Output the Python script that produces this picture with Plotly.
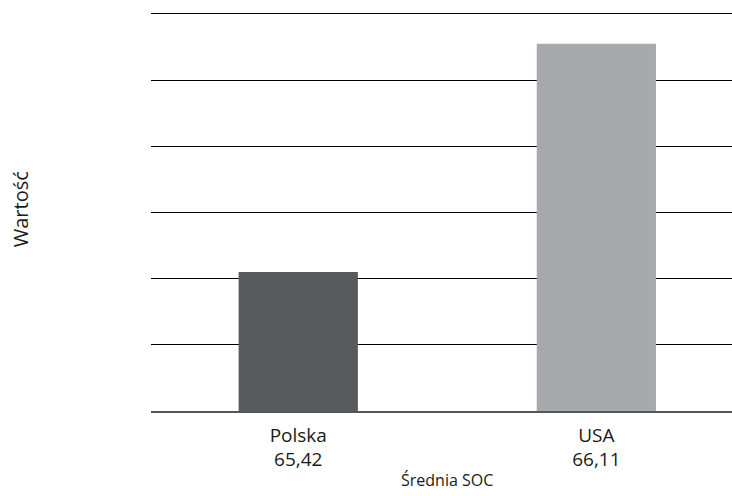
import plotly.graph_objects as go

categories = ["Polska", "USA"]
values = [65.42, 66.11]
value_labels = ["65,42", "66,11"]
colors = ["#58595b", "#a7a9ac"]
x_title = "Średnia SOC"
y_title = "Wartość"

tick_text = [f"{c}<br>{v}" for c, v in zip(categories, value_labels)]

fig = go.Figure()
fig.add_trace(go.Bar(
    x=categories,
    y=values,
    marker=dict(color=colors, line=dict(width=0)),
    width=0.4,
))

fig.update_layout(
    width=732,
    height=490,
    margin=dict(l=151, r=0, t=11.5, b=79, autoexpand=False),
    paper_bgcolor="white",
    plot_bgcolor="white",
    font=dict(family="Open Sans", color="#1a1a1a"),
    showlegend=False,
)

fig.update_xaxes(
    type="category",
    range=[-0.494, 1.455],
    tickmode="array",
    tickvals=categories,
    ticktext=tick_text,
    tickfont=dict(size=19, family="Open Sans"),
    ticklabelstandoff=6,
    showline=True,
    linecolor="#555555",
    linewidth=1.5,
    ticks="",
    showgrid=False,
    automargin=False,
)

fig.update_yaxes(
    range=[65.0, 66.206],
    dtick=0.2,
    tick0=65.0,
    showticklabels=False,
    showgrid=True,
    gridcolor="#000000",
    gridwidth=1.3,
    zeroline=False,
    showline=False,
    ticks="",
    automargin=False,
)

fig.add_annotation(
    text=y_title,
    xref="paper", yref="paper",
    x=(20 - 151) / 581.0, y=(411 - 209) / 399.5,
    xanchor="center", yanchor="middle",
    textangle=-90,
    showarrow=False,
    font=dict(size=20, family="Open Sans", color="#1a1a1a"),
)

fig.add_annotation(
    text=x_title,
    xref="paper", yref="paper",
    x=(447 - 151) / 581.0, y=(411 - 480) / 399.5,
    xanchor="center", yanchor="middle",
    showarrow=False,
    font=dict(size=16, family="Open Sans", color="#1a1a1a"),
)

fig.write_html(
    "out.html",
    config={"displayModeBar": False},
    post_script="document.body.style.margin='0';document.body.style.overflow='hidden';",
)
